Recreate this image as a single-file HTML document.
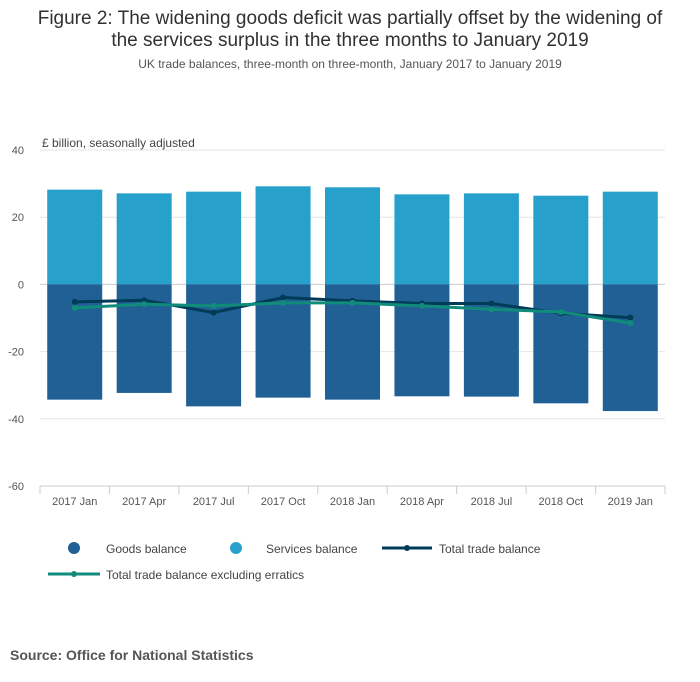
<!DOCTYPE html>
<html><head><meta charset="utf-8"><style>
body{margin:0;background:#fff;font-family:"Liberation Sans",sans-serif;}
#wrap{position:relative;width:700px;height:682px;overflow:hidden}
</style></head><body>
<div id="wrap">
<svg id="chart" width="700" height="682" xmlns="http://www.w3.org/2000/svg">
<text x="350" y="24" text-anchor="middle" font-size="19" fill="#323132">Figure 2: The widening goods deficit was partially offset by the widening of</text>
<text x="350" y="46" text-anchor="middle" font-size="19" fill="#323132">the services surplus in the three months to January 2019</text>
<text x="350" y="68" text-anchor="middle" font-size="12" fill="#555">UK trade balances, three-month on three-month, January 2017 to January 2019</text>
<text x="42" y="147" font-size="12" fill="#444">£ billion, seasonally adjusted</text>
<g id="grid"></g><g id="bars"></g><g id="lines"></g><g id="xaxis"></g>
<g>
<circle cx="74" cy="548" r="6" fill="#206095"/>
<text x="106" y="553" font-size="12" fill="#444">Goods balance</text>
<circle cx="236" cy="548" r="6" fill="#27a0cc"/>
<text x="266" y="553" font-size="12" fill="#444">Services balance</text>
<line x1="382" y1="548" x2="432" y2="548" stroke="#003c57" stroke-width="3"/>
<circle cx="407" cy="548" r="3" fill="#003c57"/>
<text x="439" y="553" font-size="12" fill="#444">Total trade balance</text>
<line x1="48" y1="574" x2="100" y2="574" stroke="#118c7b" stroke-width="3"/>
<circle cx="74" cy="574" r="3" fill="#118c7b"/>
<text x="106" y="579" font-size="12" fill="#444">Total trade balance excluding erratics</text>
</g>
<text x="10" y="660" font-size="14" font-weight="bold" fill="#555">Source: Office for National Statistics</text>
</svg>
</div>
<script>
const categories=["2017 Jan","2017 Apr","2017 Jul","2017 Oct","2018 Jan","2018 Apr","2018 Jul","2018 Oct","2019 Jan"];
const goods=[-34.3,-32.3,-36.3,-33.7,-34.3,-33.3,-33.4,-35.4,-37.7];
const services=[28.2,27.1,27.6,29.2,28.9,26.8,27.1,26.4,27.6];
const total=[-5.2,-4.7,-8.4,-3.9,-4.9,-5.7,-5.7,-8.6,-9.9];
const excl=[-7.0,-5.9,-6.4,-5.5,-5.5,-6.4,-7.4,-8.2,-11.5];
const ticks=[40,20,0,-20,-40,-60];
const NS="http://www.w3.org/2000/svg";
const L=40,R=665,T=150,B=486;
const step=(R-L)/categories.length;
function x(i){return L+step*(i+0.5);}
function y(v){return T+(40-v)*(B-T)/100;}
function mk(t,a,p){const e=document.createElementNS(NS,t);for(const k in a)e.setAttribute(k,a[k]);p.appendChild(e);return e;}
const grid=document.getElementById('grid');
ticks.forEach(v=>{
 const g=mk('line',{x1:L,x2:R,y1:y(v),y2:y(v),stroke:v===0?'#ccc':'#e6e6e6','stroke-width':1},grid);
 
 
 const t=mk('text',{x:24,y:y(v)+4,'font-size':11,fill:'#555','text-anchor':'end'},grid);
 t.textContent=v;
 
 
});
const bars=document.getElementById('bars');
const bw=55;
categories.forEach((c,i)=>{
 const s=mk('rect',{x:x(i)-bw/2,y:y(services[i]),width:bw,height:y(0)-y(services[i]),fill:'#27a0cc'},bars);
 
 
 const g=mk('rect',{x:x(i)-bw/2,y:y(0),width:bw,height:y(goods[i])-y(0),fill:'#206095'},bars);
 
 
});
const lines=document.getElementById('lines');
[[total,'#003c57','line-total'],[excl,'#118c7b','line-excl-erratics']].forEach(([d,col,n])=>{
 const p=mk('polyline',{points:d.map((v,i)=>x(i)+','+y(v)).join(' '),fill:'none',stroke:col,'stroke-width':3},lines);
 
 
 d.forEach((v,i)=>{
  const c=mk('circle',{cx:x(i),cy:y(v),r:3,fill:col},lines);
  
  
 });
});
const xa=document.getElementById('xaxis');
const base=mk('line',{x1:L,x2:R,y1:B,y2:B,stroke:'#ccc'},xa);


for(let i=0;i<=categories.length;i++){
 const tk=mk('line',{x1:L+step*i,x2:L+step*i,y1:B,y2:B+8,stroke:'#ccc'},xa);
 
 
}
categories.forEach((c,i)=>{
 const t=mk('text',{x:x(i),y:B+19,'font-size':11,fill:'#555','text-anchor':'middle'},xa);
 t.textContent=c;
 
 
});
</script>
</body></html>
